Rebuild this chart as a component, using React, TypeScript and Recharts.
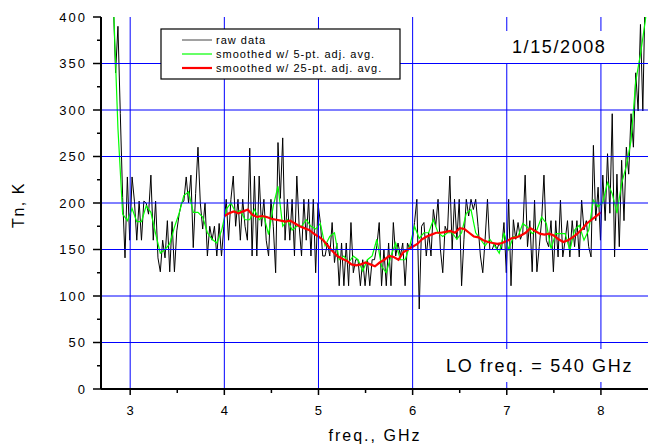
import React from 'react';
import { LineChart, Line, XAxis, YAxis, ReferenceLine } from 'recharts';

const W = 648;
const H = 445;
const FONT = '"Liberation Sans", Arial, Helvetica, sans-serif';

// raw spectrum, one point every 25 MHz starting at 2.82 GHz
const rawStart = 2.82;
const rawStep = 0.025;
const rawTn = [
  420, 340, 390, 296, 206, 141, 228, 160, 228, 202,
  160, 202, 160, 202, 200, 188, 230, 160, 202, 141,
  126, 160, 141, 181, 126, 180, 126, 170, 188, 200,
  202, 228, 200, 230, 152, 210, 260, 200, 172, 200,
  143, 175, 160, 175, 143, 178, 143, 175, 204, 160,
  204, 229, 175, 204, 160, 204, 175, 160, 259, 143,
  229, 143, 229, 175, 204, 160, 143, 204, 175, 125,
  265, 205, 270, 160, 204, 160, 204, 143, 229, 175,
  143, 204, 160, 204, 143, 204, 125, 200, 179, 143,
  143, 157, 143, 179, 136, 157, 111, 157, 111, 157,
  111, 179, 125, 139, 139, 111, 139, 111, 139, 111,
  139, 139, 154, 179, 111, 150, 111, 157, 111, 179,
  143, 157, 143, 157, 111, 157, 150, 157, 179, 204,
  86, 175, 179, 143, 168, 143, 193, 175, 204, 150,
  125, 175, 168, 229, 150, 204, 161, 204, 111, 161,
  204, 186, 204, 193, 204, 175, 143, 125, 161, 204,
  150, 150, 157, 150, 157, 150, 179, 125, 204, 111,
  182, 161, 179, 161, 168, 230, 153, 181, 126, 203,
  126, 153, 181, 230, 160, 153, 181, 126, 181, 142,
  203, 142, 160, 181, 142, 181, 153, 181, 142, 203,
  171, 181, 153, 142, 262, 181, 217, 160, 230, 181,
  253, 189, 296, 142, 231, 153, 246, 181, 260, 231,
  296, 260, 340, 299, 392, 299, 430, 420,
];

// 5-pt adjacent average, read every 50 MHz
const smooth5Start = 2.82;
const smooth5Step = 0.05;
const smooth5Tn = [
  420, 280, 188, 181, 194, 180, 180, 197, 190, 167,
  146, 150, 156, 174, 189, 208, 212, 190, 190, 185,
  168, 161, 157, 170, 193, 200, 190, 192, 182, 182,
  193, 182, 186, 166, 197, 218, 175, 182, 171, 175,
  175, 182, 175, 172, 178, 154, 164, 168, 139, 143,
  136, 143, 139, 127, 139, 143, 161, 132, 125, 143,
  157, 139, 139, 154, 175, 162, 168, 168, 182, 168,
  164, 168, 168, 161, 168, 189, 193, 168, 161, 154,
  161, 154, 146, 168, 150, 164, 164, 178, 174, 167,
  171, 185, 178, 151, 167, 167, 167, 149, 171, 176,
  160, 171, 203, 196, 201, 222, 210, 189, 221, 240,
  267, 331, 360, 395, 440,
];

// 25-pt adjacent average, only 4-8 GHz
const smooth25Start = 4.0;
const smooth25Step = 0.05;
const smooth25Tn = [
  186, 189, 191, 189, 191, 193, 187, 185, 186, 185,
  183, 182, 181, 180, 181, 178, 175, 173, 171, 167,
  164, 160, 154, 148, 143, 140, 138, 134, 133, 134,
  136, 134, 132, 136, 139, 143, 142, 139, 147, 150,
  153, 156, 161, 164, 166, 168, 168, 169, 170, 168,
  173, 172, 168, 164, 163, 160, 158, 157, 156, 157,
  159, 162, 163, 165, 168, 173, 170, 167, 166, 167,
  165, 161, 158, 160, 163, 167, 172, 178, 182, 186,
  190,
];

const freqMajor = [3, 4, 5, 6, 7, 8];
const freqMinor = [3.5, 4.5, 5.5, 6.5, 7.5];
const tnMajor = [0, 50, 100, 150, 200, 250, 300, 350, 400];
const tnMinor = [25, 75, 125, 175, 225, 275, 325, 375];

const toPoints = (start: number, step: number, values: number[]) =>
  values.map((tn, i) => ({ freq: Math.round((start + i * step) * 1000) / 1000, tn }));

const series = [
  { key: 'raw', name: 'raw data', color: '#000000', width: 1, data: toPoints(rawStart, rawStep, rawTn) },
  { key: 's5', name: 'smoothed w/ 5-pt. adj. avg.', color: '#00ff00', width: 1.2, data: toPoints(smooth5Start, smooth5Step, smooth5Tn) },
  { key: 's25', name: 'smoothed w/ 25-pt. adj. avg.', color: '#ff0000', width: 2.2, data: toPoints(smooth25Start, smooth25Step, smooth25Tn) },
];

function FreqTick(props: any) {
  const { x, y, payload } = props;
  const major = freqMajor.includes(payload.value);
  return (
    <g>
      <line x1={x} x2={x} y1={y} y2={y + (major ? 6 : 4)} stroke="#000" strokeWidth={1.5} />
      {major && (
        <text x={x + 1} y={y + 26} textAnchor="middle" fontSize={13} letterSpacing={2} fill="#000" fontFamily={FONT}>
          {payload.value}
        </text>
      )}
    </g>
  );
}

function TnTick(props: any) {
  const { x, y, payload } = props;
  const major = tnMajor.includes(payload.value);
  return (
    <g>
      <line x1={x} x2={x - (major ? 8 : 4)} y1={y} y2={y} stroke="#000" strokeWidth={1.5} />
      {major && (
        <text x={x - 14} y={y + 4.7} textAnchor="end" fontSize={13} letterSpacing={2} fill="#000" fontFamily={FONT}>
          {payload.value}
        </text>
      )}
    </g>
  );
}

export default function App() {
  return (
    <div style={{ position: 'absolute', left: 0, top: 0, width: W, height: H, background: '#fff' }}>
      <LineChart width={W} height={H} margin={{ top: 17, right: 0, bottom: 0, left: 0 }}>
        <XAxis
          dataKey="freq"
          type="number"
          domain={[2.69, 8.5]}
          allowDataOverflow
          ticks={[...freqMajor, ...freqMinor].sort((a, b) => a - b)}
          interval={0}
          height={56}
          tickSize={0}
          tickMargin={0}
          tickLine={false}
          axisLine={{ stroke: '#000', strokeWidth: 2 }}
          tick={<FreqTick />}
        />
        <YAxis
          dataKey="tn"
          type="number"
          domain={[0, 400]}
          allowDataOverflow
          ticks={[...tnMajor, ...tnMinor].sort((a, b) => a - b)}
          interval={0}
          width={101}
          tickSize={0}
          tickMargin={0}
          tickLine={false}
          axisLine={{ stroke: '#000', strokeWidth: 2 }}
          tick={<TnTick />}
        />
        {series.map((s) => (
          <Line
            key={s.key}
            data={s.data}
            dataKey="tn"
            name={s.name}
            type="linear"
            stroke={s.color}
            strokeWidth={s.width}
            dot={false}
            activeDot={false}
            isAnimationActive={false}
          />
        ))}
        {freqMajor.map((f) => (
          <ReferenceLine key={'vx' + f} x={f} stroke="#0000ff" strokeWidth={1} />
        ))}
        {tnMajor.filter((t) => t > 0 && t < 400).map((t) => (
          <ReferenceLine key={'hy' + t} y={t} stroke="#0000ff" strokeWidth={1} />
        ))}
      </LineChart>

      <svg width={W} height={H} style={{ position: 'absolute', left: 0, top: 0, pointerEvents: 'none' }} fontFamily={FONT}>
        {/* legend */}
        <rect x={161} y={29} width={239} height={50} fill="#fff" stroke="#000" strokeWidth={1.2} />
        {series.map((s, i) => (
          <g key={s.key}>
            <line x1={182} x2={212} y1={40 + i * 14} y2={40 + i * 14} stroke={s.key === 'raw' ? '#444' : s.color} strokeWidth={s.width} />
            <text x={216} y={44 + i * 14} fontSize={11} letterSpacing={1} fill="#000">{s.name}</text>
          </g>
        ))}

        <rect x={505} y={31} width={108} height={32} fill="#fff" />
        <text x={512} y={53} fontSize={18} letterSpacing={1.6} fill="#000">1/15/2008</text>

        <rect x={438} y={349} width={205} height={33} fill="#fff" />
        <text x={446} y={372} fontSize={18} letterSpacing={1.7} fill="#000">LO freq. = 540 GHz</text>

        <text x={24} y={205} fontSize={16} letterSpacing={1.5} textAnchor="middle" fill="#000" transform="rotate(-90 24 205)">Tn, K</text>
        <text x={375} y={441} fontSize={16} letterSpacing={2} textAnchor="middle" fill="#000">freq., GHz</text>
      </svg>
    </div>
  );
}
